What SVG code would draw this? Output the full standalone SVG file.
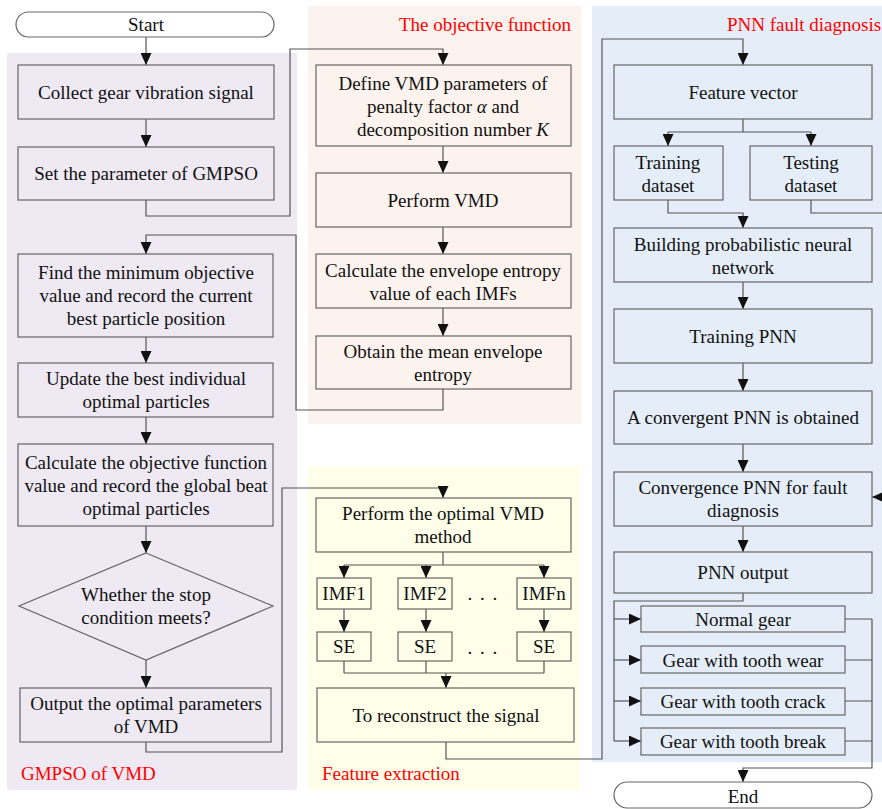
<svg xmlns="http://www.w3.org/2000/svg" width="882" height="809" viewBox="0 0 882 809">
<defs>
<marker id="arr" markerUnits="userSpaceOnUse" markerWidth="12" markerHeight="11" refX="12" refY="5.5" orient="auto">
<path d="M0,0 L12,5.5 L0,11 z" fill="#111"/>
</marker>
<style>
text{font-family:"Liberation Serif","Times New Roman",serif;font-size:19px;fill:#111;text-anchor:middle}
.lbl{fill:#f00;text-anchor:start}
.dots{letter-spacing:1.5px}
.box{fill:none;stroke:#666;stroke-width:1.2}
.term{fill:#fff;stroke:#666;stroke-width:1.2}
.c{fill:none;stroke:#555;stroke-width:1.2}
.a{fill:none;stroke:#555;stroke-width:1.2;marker-end:url(#arr)}
</style>
</defs>
<rect width="882" height="809" fill="#fff"/>
<g id="panels">
<rect x="7" y="53" width="290" height="737" fill="#EEE9F3"/>
<rect x="308" y="6" width="273" height="418" fill="#FCF3EE"/>
<rect x="308" y="466" width="272" height="324" fill="#FEFEE9"/>
<rect x="592" y="6" width="290" height="756" fill="#E5EEF8"/>
<text class="lbl" x="21" y="780">GMPSO of VMD</text>
<text class="lbl" x="571" y="31" style="text-anchor:end">The objective function</text>
<text class="lbl" x="727" y="31">PNN fault diagnosis</text>
<text class="lbl" x="322" y="780">Feature extraction</text>
</g>
<g id="connectors">
<path class="a" d="M146,37 V65"/>
<path class="a" d="M146,119 V147"/>
<path class="a" d="M146,200 V216 H290 V49 H443 V65"/>
<path class="a" d="M443,146 V173"/>
<path class="a" d="M443,227 V254"/>
<path class="a" d="M443,308 V336"/>
<path class="a" d="M443,389 V410 H296 V235 H146 V254"/>
<path class="a" d="M146,337 V363"/>
<path class="a" d="M146,417 V444"/>
<path class="a" d="M146,526 V553"/>
<path class="a" d="M146,660 V688"/>
<path class="a" d="M146,742 V752 H282 V488 H443 V498"/>
<path class="c" d="M443,552 V565 M344,565 H544"/>
<path class="a" d="M344,565 V578"/>
<path class="a" d="M426,565 V578"/>
<path class="a" d="M544,565 V578"/>
<path class="a" d="M344,609 V632"/>
<path class="a" d="M426,609 V632"/>
<path class="a" d="M544,609 V632"/>
<path class="c" d="M344,661 V673 M426,661 V673 M544,661 V673 M344,673 H544"/>
<path class="a" d="M446,673 V688"/>
<path class="a" d="M446,742 V759 H602 V39 H743 V65"/>
<path class="c" d="M743,119 V132 M668,132 H811"/>
<path class="a" d="M668,132 V146"/>
<path class="a" d="M811,132 V146"/>
<path class="a" d="M668,200 V213 H743 V228"/>
<path class="a" d="M811,200 V213 H886 V497 H872"/>
<path class="a" d="M743,282 V309"/>
<path class="a" d="M743,363 V391"/>
<path class="a" d="M743,444 V472"/>
<path class="a" d="M743,526 V552"/>
<path class="c" d="M743,593 V601 H614 V741"/>
<path class="a" d="M614,619 H641"/>
<path class="a" d="M614,660 H641"/>
<path class="a" d="M614,701 H641"/>
<path class="a" d="M614,741 H641"/>
<path class="c" d="M845,619 H872 M845,660 H872 M845,701 H872 M845,741 H872"/>
<path class="a" d="M872,619 V768 H743 V782"/>
</g>
<g id="start"><rect class="term" x="16" y="12" width="258" height="25" rx="12.5"/><text x="146" y="31">Start</text></g>
<g id="collect"><rect class="box" x="18" y="65" width="256" height="54"/><text x="146" y="99">Collect gear vibration signal</text></g>
<g id="setparam"><rect class="box" x="18" y="147" width="256" height="53"/><text x="146" y="180">Set the parameter of GMPSO</text></g>
<g id="find"><rect class="box" x="18" y="254" width="255" height="83"/><text x="146" y="279">Find the minimum objective</text><text x="146" y="302">value and record the current</text><text x="146" y="325">best particle position</text></g>
<g id="update"><rect class="box" x="18" y="363" width="255" height="54"/><text x="146" y="385">Update the best individual</text><text x="146" y="408">optimal particles</text></g>
<g id="calcobj"><rect class="box" x="18" y="444" width="255" height="82"/><text x="146" y="469">Calculate the objective function</text><text x="146" y="492">value and record the global beat</text><text x="146" y="515">optimal particles</text></g>
<g id="decision"><polygon class="box" points="146,553 273,606 146,660 19,606"/><text x="146" y="601">Whether the stop</text><text x="146" y="624">condition meets?</text></g>
<g id="outputvmd"><rect class="box" x="20" y="688" width="251" height="54"/><text x="146" y="710">Output the optimal parameters</text><text x="146" y="733">of VMD</text></g>
<g id="define"><rect class="box" x="316" y="65" width="255" height="81"/><text x="443" y="90">Define VMD parameters of</text><text x="443" y="113">penalty factor <tspan font-style="italic">α</tspan> and</text><text x="453" y="136">decomposition number <tspan font-style="italic">K</tspan></text></g>
<g id="performvmd"><rect class="box" x="316" y="173" width="255" height="54"/><text x="443" y="207">Perform VMD</text></g>
<g id="envelope"><rect class="box" x="316" y="254" width="255" height="54"/><text x="443" y="277">Calculate the envelope entropy</text><text x="443" y="300">value of each IMFs</text></g>
<g id="mean"><rect class="box" x="316" y="336" width="255" height="53"/><text x="443" y="358">Obtain the mean envelope</text><text x="443" y="381">entropy</text></g>
<g id="optimalvmd"><rect class="box" x="316" y="498" width="255" height="54"/><text x="443" y="520">Perform the optimal VMD</text><text x="443" y="543">method</text></g>
<g id="imf1"><rect class="box" x="317" y="578" width="54" height="31"/><text x="344" y="600">IMF1</text></g>
<g id="imf2"><rect class="box" x="398" y="578" width="54" height="31"/><text x="425" y="600">IMF2</text></g>
<g id="imfn"><rect class="box" x="517" y="578" width="54" height="31"/><text x="544" y="600">IMFn</text></g>
<text class="dots" x="483" y="600">. . .</text>
<g id="se1"><rect class="box" x="317" y="632" width="54" height="29"/><text x="344" y="653">SE</text></g>
<g id="se2"><rect class="box" x="398" y="632" width="54" height="29"/><text x="425" y="653">SE</text></g>
<g id="sen"><rect class="box" x="517" y="632" width="54" height="29"/><text x="544" y="653">SE</text></g>
<text class="dots" x="483" y="654">. . .</text>
<g id="reconstruct"><rect class="box" x="317" y="688" width="257" height="54"/><text x="446" y="722">To reconstruct the signal</text></g>
<g id="featvec"><rect class="box" x="614" y="65" width="258" height="54"/><text x="743" y="99">Feature vector</text></g>
<g id="training"><rect class="box" x="614" y="146" width="109" height="54"/><text x="668" y="169">Training</text><text x="668" y="192">dataset</text></g>
<g id="testing"><rect class="box" x="750" y="146" width="122" height="54"/><text x="811" y="169">Testing</text><text x="811" y="192">dataset</text></g>
<g id="building"><rect class="box" x="614" y="228" width="258" height="54"/><text x="743" y="251">Building probabilistic neural</text><text x="743" y="274">network</text></g>
<g id="trainpnn"><rect class="box" x="614" y="309" width="258" height="54"/><text x="743" y="343">Training PNN</text></g>
<g id="convergent"><rect class="box" x="614" y="391" width="258" height="53"/><text x="743" y="424">A convergent PNN is obtained</text></g>
<g id="convergence"><rect class="box" x="614" y="472" width="258" height="54"/><text x="743" y="494">Convergence PNN for fault</text><text x="743" y="517">diagnosis</text></g>
<g id="pnnoutput"><rect class="box" x="614" y="552" width="258" height="41"/><text x="743" y="579">PNN output</text></g>
<g id="normal"><rect class="box" x="641" y="606" width="204" height="26"/><text x="743" y="626">Normal gear</text></g>
<g id="wear"><rect class="box" x="641" y="646" width="204" height="27"/><text x="743" y="667">Gear with tooth wear</text></g>
<g id="crack"><rect class="box" x="641" y="688" width="204" height="27"/><text x="743" y="708">Gear with tooth crack</text></g>
<g id="break"><rect class="box" x="641" y="728" width="204" height="27"/><text x="743" y="748">Gear with tooth break</text></g>
<g id="end"><rect class="term" x="614" y="782" width="258" height="26" rx="13"/><text x="743" y="803">End</text></g>
</svg>
